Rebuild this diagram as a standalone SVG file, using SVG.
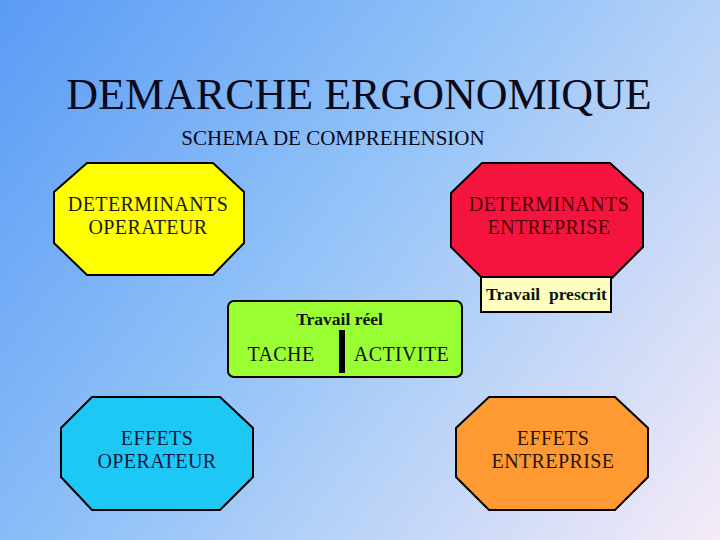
<svg xmlns="http://www.w3.org/2000/svg" width="720" height="540" viewBox="0 0 720 540">
<defs>
<linearGradient id="bg" gradientUnits="userSpaceOnUse" x1="0" y1="0" x2="720" y2="540">
<stop offset="0" stop-color="#5a9bf5"/>
<stop offset="0.45" stop-color="#93c3f8"/>
<stop offset="1" stop-color="#f6ebf7"/>
</linearGradient>
</defs>
<style>
.oct{stroke:#000;stroke-width:2}
.lbl{font-family:"Liberation Serif","Times New Roman",serif;font-size:20px;letter-spacing:0.4px;text-anchor:middle}
.title{font-family:"Liberation Serif","Times New Roman",serif;font-size:44px;text-anchor:middle;fill:#0a0a1a}
.sub{font-family:"Liberation Serif","Times New Roman",serif;font-size:21px;text-anchor:middle;fill:#0a0a1a}
.small{font-family:"Liberation Serif","Times New Roman",serif;font-weight:bold;font-size:17.5px;text-anchor:middle;fill:#111}
</style>
<rect width="720" height="540" fill="url(#bg)"/>
<g id="title">
<text class="title" x="359" y="109">DEMARCHE ERGONOMIQUE</text>
<text class="sub" x="333" y="145">SCHEMA DE COMPREHENSION</text>
</g>
<g id="determinants-operateur">
<polygon class="oct" fill="#ffff00" points="87,163 213,163 244,192 244,243 213,275 87,275 54,243 54,192"/>
<text class="lbl" fill="#1a1a1a" x="148" y="211">DETERMINANTS</text>
<text class="lbl" fill="#1a1a1a" x="148" y="234">OPERATEUR</text>
</g>
<g id="determinants-entreprise">
<polygon class="oct" fill="#f5143e" points="482,163 610,163 643,193 643,247 612,278 482,278 451,247 451,193"/>
<text class="lbl" fill="#4a0008" x="549" y="211">DETERMINANTS</text>
<text class="lbl" fill="#4a0008" x="549" y="234">ENTREPRISE</text>
</g>
<g id="travail-prescrit">
<rect x="481" y="277" width="130" height="35" fill="#ffffc0" stroke="#000" stroke-width="2"/>
<text class="small" x="546.5" y="300" xml:space="preserve">Travail  prescrit</text>
</g>
<g id="travail-reel">
<rect x="228" y="301" width="234" height="76" rx="6" ry="6" fill="#99ff33" stroke="#000" stroke-width="2"/>
<text class="small" x="339.5" y="325">Travail réel</text>
<text class="lbl" fill="#111" x="281" y="361">TACHE</text>
<rect x="339" y="330" width="6" height="43" fill="#000"/>
<text class="lbl" fill="#111" x="401.5" y="361">ACTIVITE</text>
</g>
<g id="effets-operateur">
<polygon class="oct" fill="#1ec8f5" points="92,397 220,397 253,428 253,477 220,510 92,510 61,477 61,428"/>
<text class="lbl" fill="#0d1b40" x="157" y="445">EFFETS</text>
<text class="lbl" fill="#0d1b40" x="157" y="468">OPERATEUR</text>
</g>
<g id="effets-entreprise">
<polygon class="oct" fill="#ff9a33" points="489,397 615,397 648,428 648,477 615,510 489,510 456,477 456,428"/>
<text class="lbl" fill="#2a1400" x="553" y="445">EFFETS</text>
<text class="lbl" fill="#2a1400" x="553" y="468">ENTREPRISE</text>
</g>
</svg>
